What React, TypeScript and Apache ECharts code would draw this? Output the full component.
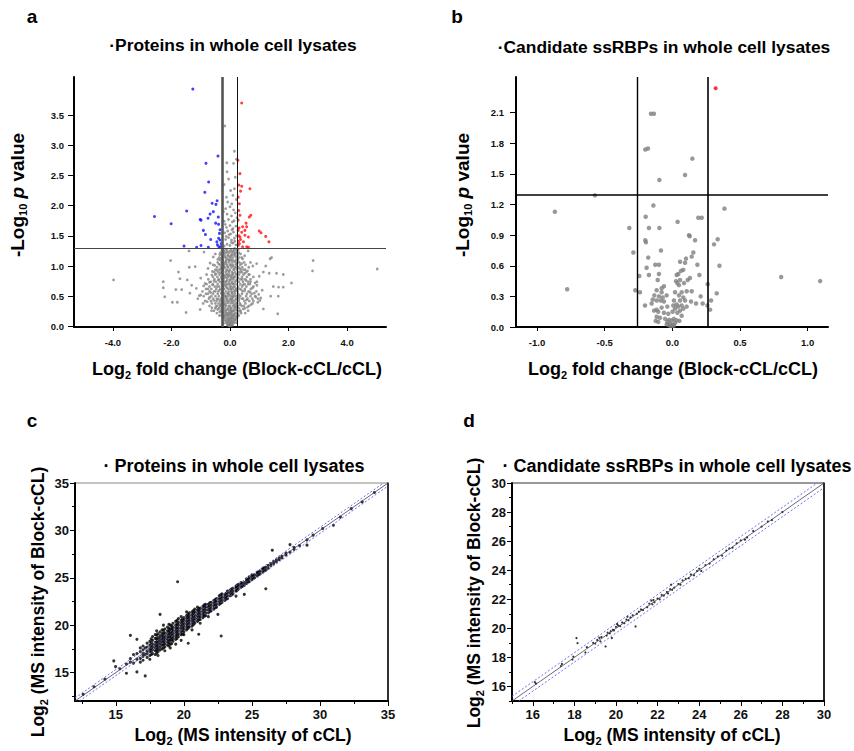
import React, { useEffect, useRef } from 'react';
import * as echarts from 'echarts';

const FONT = "'Liberation Sans', Arial, sans-serif";

// ---------- Panel a : volcano, all proteins ----------
const aXTicks = [-4, -2, 0, 2, 4];
const aYTicks = [0, 0.5, 1, 1.5, 2, 2.5, 3, 3.5];
const foldCut = 0.263;
const pCut = 1.3;

const aBlue: number[][] = [
  [-1.27, 3.93], [-0.41, 2.82], [-0.82, 2.7], [-0.73, 2.39], [-0.86, 2.22], [-0.61, 2.04], [-0.44, 2.08],
  [-0.48, 2.02], [-1.48, 1.91], [-0.68, 1.86], [-0.75, 1.79], [-1.02, 1.77], [-0.99, 1.76], [-0.57, 1.9],
  [-2.58, 1.82], [-2.01, 1.7], [-0.49, 1.71], [-0.39, 1.69], [-0.91, 1.59], [-0.84, 1.52], [-0.66, 1.44],
  [-0.39, 1.46], [-0.34, 1.43], [-1.57, 1.33], [-0.99, 1.34], [-1.14, 1.31], [-0.74, 1.31], [-0.43, 1.35],
  [-0.38, 1.32], [-0.32, 1.32], [-0.34, 1.6], [-0.4, 1.81], [-0.36, 1.54], [-0.45, 1.4], [-0.3, 1.37],
];
const aRed: number[][] = [
  [0.4, 3.7], [0.27, 2.75], [0.34, 2.53], [0.68, 2.28], [0.3, 2.34], [0.36, 2.24], [0.4, 2.32], [0.28, 2.14],
  [0.32, 2.03], [0.3, 1.92], [0.71, 1.84], [0.66, 1.81], [0.34, 1.84], [0.55, 1.71], [0.57, 1.65], [0.28, 1.76],
  [0.43, 1.65], [0.4, 1.56], [1.0, 1.58], [1.06, 1.55], [1.22, 1.49], [1.33, 1.4], [0.51, 1.51], [0.63, 1.48],
  [0.34, 1.48], [0.46, 1.4], [0.32, 1.37], [0.57, 1.32], [0.63, 1.31], [0.43, 1.32], [0.28, 1.34], [0.36, 1.44],
  [0.51, 1.59], [0.28, 1.59], [0.3, 1.5], [0.29, 1.41], [0.31, 1.63],
];
const aGray: number[][] = [
  // outliers
  [-3.98, 0.77], [2.84, 1.09], [2.82, 0.92], [5.03, 0.95], [2.1, 0.72], [1.82, 0.86], [1.59, 0.88], [1.42, 1.14],
  [1.22, 1.0], [1.34, 0.88], [1.48, 0.66], [1.66, 0.65], [1.82, 0.65], [1.39, 0.5], [1.65, 0.5], [1.63, 0.21],
  [1.14, 0.29], [1.02, 0.43], [-2.03, 1.09], [-2.28, 0.74], [-2.28, 0.64], [-2.23, 0.49], [-1.97, 0.4],
  [-1.8, 0.4], [-1.71, 0.79], [-1.76, 0.9], [-1.85, 0.61], [-1.65, 0.61], [-1.5, 0.23], [-1.37, 0.55],
  [-1.46, 0.77], [-1.39, 0.98], [-1.19, 0.99], [-1.31, 0.68], [-1.05, 0.51], [-1.02, 0.28], [-1.4, 1.25],
  [1.37, 1.12], [1.14, 0.9], [0.91, 1.04], [0.8, 0.82], [-0.89, 1.23], [-0.57, 1.15],
  // y 0 - 0.15
  [-0.02, 0.01], [0.03, 0.02], [-0.06, 0.03], [0.07, 0.04], [0.0, 0.05], [-0.11, 0.06], [0.12, 0.07], [-0.04, 0.08],
  [0.05, 0.09], [-0.15, 0.1], [0.16, 0.11], [0.01, 0.12], [-0.08, 0.13], [0.09, 0.14], [-0.2, 0.15], [0.21, 0.16],
  [-0.01, 0.03], [0.02, 0.07], [-0.03, 0.11], [0.04, 0.15],
  // y 0.15 - 0.3
  [-0.28, 0.18], [-0.12, 0.19], [0.13, 0.2], [0.27, 0.21], [-0.05, 0.22], [0.06, 0.23], [-0.35, 0.24], [0.34, 0.25],
  [-0.18, 0.26], [0.19, 0.27], [-0.42, 0.28], [0.45, 0.29], [0.0, 0.2], [-0.24, 0.3], [0.25, 0.17], [-0.09, 0.28],
  [0.1, 0.26], [0.52, 0.22], [-0.55, 0.26], [0.02, 0.29],
  // y 0.3 - 0.5
  [-0.62, 0.31], [0.6, 0.32], [-0.48, 0.33], [0.47, 0.34], [-0.33, 0.35], [0.35, 0.36], [-0.2, 0.37], [0.21, 0.38],
  [-0.07, 0.39], [0.08, 0.4], [-0.78, 0.41], [0.8, 0.42], [-0.55, 0.43], [0.57, 0.44], [-0.4, 0.45], [0.42, 0.46],
  [-0.27, 0.47], [0.28, 0.48], [-0.13, 0.49], [0.14, 0.5], [0.0, 0.33], [-0.92, 0.38], [0.95, 0.4], [-0.7, 0.48],
  [0.72, 0.36], [0.03, 0.45], [-0.03, 0.42], [1.05, 0.47], [-1.1, 0.46], [0.88, 0.49],
  // y 0.5 - 0.7
  [-1.0, 0.52], [0.98, 0.53], [-0.82, 0.54], [0.83, 0.55], [-0.66, 0.56], [0.68, 0.57], [-0.5, 0.58], [0.5, 0.59],
  [-0.36, 0.6], [0.38, 0.61], [-0.22, 0.62], [0.24, 0.63], [-0.1, 0.64], [0.11, 0.65], [0.0, 0.66], [-0.9, 0.67],
  [0.92, 0.68], [-0.6, 0.69], [0.62, 0.7], [-0.3, 0.55], [0.3, 0.52], [-0.16, 0.68], [0.17, 0.58], [-0.75, 0.62],
  [0.77, 0.64], [-0.44, 0.66], [0.45, 0.69], [1.1, 0.6], [-1.15, 0.63], [0.06, 0.56],
  // y 0.7 - 0.9
  [-0.85, 0.71], [0.86, 0.72], [-0.7, 0.73], [0.7, 0.74], [-0.55, 0.75], [0.55, 0.76], [-0.4, 0.77], [0.42, 0.78],
  [-0.28, 0.79], [0.28, 0.8], [-0.15, 0.81], [0.16, 0.82], [-0.04, 0.83], [0.05, 0.84], [-0.62, 0.85], [0.64, 0.86],
  [-0.48, 0.87], [0.5, 0.88], [-0.33, 0.89], [0.35, 0.9], [-0.2, 0.74], [0.22, 0.76], [-0.09, 0.86], [0.1, 0.88],
  [-1.0, 0.8], [1.0, 0.83], [0.0, 0.77],
  // y 0.9 - 1.1
  [-0.6, 0.91], [0.6, 0.92], [-0.45, 0.93], [0.46, 0.94], [-0.32, 0.95], [0.33, 0.96], [-0.2, 0.97], [0.21, 0.98],
  [-0.08, 0.99], [0.09, 1.0], [-0.52, 1.01], [0.53, 1.02], [-0.38, 1.03], [0.4, 1.04], [-0.25, 1.05], [0.26, 1.06],
  [-0.13, 1.07], [0.14, 1.08], [-0.02, 1.09], [0.03, 1.1], [-0.75, 0.96], [0.78, 1.0], [0.7, 1.06], [-0.68, 1.05],
  // y 1.1 - 1.3
  [-0.42, 1.11], [0.43, 1.12], [-0.3, 1.13], [0.31, 1.14], [-0.18, 1.15], [0.19, 1.16], [-0.06, 1.17], [0.07, 1.18],
  [-0.35, 1.19], [0.36, 1.2], [-0.22, 1.21], [0.23, 1.22], [-0.1, 1.23], [0.11, 1.24], [0.0, 1.25], [-0.27, 1.26],
  [0.28, 1.27], [-0.15, 1.28], [0.16, 1.29], [-0.5, 1.2], [0.5, 1.17], [0.62, 1.25],
  // dense central column
  [-0.22, 0.05], [0.22, 0.06], [-0.18, 0.35], [0.18, 0.32], [-0.1, 0.45], [0.12, 0.43], [-0.23, 0.55], [0.2, 0.6],
  [-0.05, 0.7], [0.07, 0.72], [-0.2, 0.84], [0.23, 0.87], [-0.12, 0.93], [0.15, 0.95], [-0.23, 1.0], [0.22, 1.03],
  [-0.08, 1.12], [0.0, 1.15], [0.14, 1.2], [-0.2, 1.24], [0.05, 0.25], [-0.14, 0.22], [0.15, 0.35], [-0.02, 0.53],
  [0.03, 0.62], [-0.07, 0.55], [0.09, 0.48], [-0.12, 0.75], [0.13, 0.7], [-0.03, 0.92], [0.02, 1.02], [-0.15, 1.04],
  [0.08, 0.8], [-0.24, 0.66], [0.24, 0.45], [-0.05, 0.18], [0.08, 0.18], [-0.17, 0.5], [0.19, 0.12], [-0.24, 0.4],
  // above the p threshold, inside the fold lines
  [-0.2, 1.33], [-0.1, 1.36], [0.0, 1.34], [0.1, 1.38], [0.2, 1.35], [-0.15, 1.44], [-0.05, 1.47], [0.05, 1.43],
  [0.15, 1.46], [0.22, 1.5], [-0.18, 1.55], [-0.08, 1.58], [0.02, 1.53], [0.12, 1.56], [-0.12, 1.64], [0.0, 1.67],
  [0.1, 1.62], [0.2, 1.66], [-0.2, 1.74], [-0.05, 1.77], [0.08, 1.73], [-0.1, 1.86], [0.05, 1.83], [0.18, 1.88],
  [-0.15, 1.95], [0.0, 1.98], [0.12, 1.93], [-0.08, 2.06], [0.06, 2.03], [-0.12, 2.14], [0.1, 2.17], [0.02, 2.25],
  [0.15, 2.28], [-0.05, 2.44], [0.18, 2.47], [-0.1, 2.56], [0.12, 2.7], [0.15, 2.9], [0.22, 2.77], [-0.18, 3.32],
  [-0.11, 2.71], [-0.2, 2.35], [0.22, 2.1], [-0.22, 1.9], [0.24, 1.8], [0.05, 1.39], [-0.03, 1.52], [0.16, 1.41],
  [-0.13, 1.49], [0.07, 1.6], [-0.16, 1.69], [0.14, 1.75],
];
// the dense core of the cloud, read row by row: [y, x values]
const aCoreRows: [number, number[]][] = [
  [0.02, [-0.09, -0.05, 0.04, 0.09]],
  [0.06, [-0.13, -0.07, -0.02, 0.03, 0.08, 0.14]],
  [0.1, [-0.18, -0.1, -0.06, 0.02, 0.06, 0.11, 0.19]],
  [0.14, [-0.23, -0.15, -0.05, 0.0, 0.05, 0.13, 0.24]],
  [0.18, [-0.2, -0.16, -0.09, 0.03, 0.11, 0.17, 0.3, -0.36]],
  [0.22, [-0.27, -0.2, -0.1, -0.02, 0.03, 0.16, 0.22, 0.38, -0.45]],
  [0.26, [-0.31, -0.25, -0.14, -0.03, 0.04, 0.13, 0.26, 0.36, -0.63, 0.62]],
  [0.3, [-0.38, -0.29, -0.17, -0.06, 0.05, 0.15, 0.23, 0.31, 0.51, -0.5]],
  [0.34, [-0.44, -0.34, -0.24, -0.13, -0.04, 0.1, 0.2, 0.27, 0.4, 0.65, -0.7]],
  [0.38, [-0.5, -0.39, -0.3, -0.23, -0.14, 0.02, 0.12, 0.24, 0.34, 0.53, 0.77, -0.62]],
  [0.42, [-0.65, -0.46, -0.34, -0.27, -0.18, -0.09, 0.05, 0.18, 0.3, 0.49, 0.66, -0.85]],
  [0.46, [-0.72, -0.58, -0.45, -0.31, -0.21, -0.12, 0.0, 0.07, 0.2, 0.32, 0.44, 0.6, 0.76, 0.95]],
  [0.5, [-0.9, -0.64, -0.5, -0.38, -0.25, -0.15, -0.06, 0.03, 0.1, 0.21, 0.35, 0.55, 0.7, 0.86]],
  [0.54, [-0.75, -0.58, -0.42, -0.28, -0.19, -0.08, 0.08, 0.16, 0.27, 0.41, 0.58, 0.74]],
  [0.58, [-0.94, -0.7, -0.55, -0.4, -0.26, -0.14, -0.04, 0.05, 0.14, 0.26, 0.43, 0.63, 0.9]],
  [0.62, [-0.82, -0.64, -0.47, -0.33, -0.2, -0.07, 0.02, 0.09, 0.19, 0.32, 0.51, 0.71]],
  [0.66, [-0.7, -0.52, -0.37, -0.24, -0.13, 0.03, 0.16, 0.28, 0.41, 0.56, 0.8]],
  [0.7, [-0.8, -0.58, -0.42, -0.28, -0.18, -0.1, 0.01, 0.1, 0.22, 0.35, 0.5, 0.68]],
  [0.74, [-0.66, -0.48, -0.35, -0.25, -0.14, -0.03, 0.07, 0.17, 0.3, 0.44, 0.62, 0.92]],
  [0.78, [-0.74, -0.53, -0.38, -0.22, -0.09, 0.02, 0.12, 0.24, 0.36, 0.52, 0.7]],
  [0.82, [-0.58, -0.43, -0.3, -0.19, -0.08, 0.04, 0.14, 0.26, 0.41, 0.58]],
  [0.86, [-0.8, -0.5, -0.36, -0.23, -0.13, -0.02, 0.09, 0.2, 0.31, 0.46, 0.66]],
  [0.9, [-0.54, -0.4, -0.27, -0.15, -0.05, 0.06, 0.17, 0.28, 0.4, 0.56]],
  [0.94, [-0.5, -0.36, -0.24, -0.1, 0.0, 0.12, 0.24, 0.37, 0.52]],
  [0.98, [-0.44, -0.3, -0.17, -0.06, 0.05, 0.16, 0.29, 0.42, 0.64]],
  [1.02, [-0.58, -0.33, -0.21, -0.1, 0.01, 0.11, 0.22, 0.35]],
  [1.06, [-0.42, -0.29, -0.18, -0.04, 0.07, 0.19, 0.32, 0.48]],
  [1.1, [-0.34, -0.24, -0.13, -0.03, 0.08, 0.2, 0.27]],
  [1.14, [-0.37, -0.26, -0.14, 0.02, 0.1, 0.24, 0.4]],
  [1.18, [-0.28, -0.19, -0.08, 0.04, 0.16, 0.26]],
  [1.22, [-0.33, -0.15, -0.04, 0.06, 0.18, 0.3]],
  [1.26, [-0.23, -0.1, 0.04, 0.13, 0.22]],
];

// ---------- Panel b : volcano, candidate ssRBPs ----------
const bXTicks = [-1, -0.5, 0, 0.5, 1];
const bYTicks = [0, 0.3, 0.6, 0.9, 1.2, 1.5, 1.8, 2.1];
const bRed: number[][] = [[0.32, 2.34]];
const bGray: number[][] = [
  [-0.158, 2.09], [-0.136, 2.09], [-0.2, 1.74], [-0.18, 1.75], [0.148, 1.65], [0.094, 1.49], [-0.096, 1.44],
  [-0.572, 1.29], [-0.868, 1.13], [-0.777, 0.37], [0.385, 1.16], [-0.14, 1.19], [-0.197, 1.08], [0.039, 1.03],
  [0.192, 1.07], [0.217, 1.07], [-0.318, 0.97], [-0.173, 0.97], [-0.096, 0.97], [-0.2, 0.85], [-0.195, 0.83],
  [0.123, 0.9], [0.128, 0.89], [0.168, 0.85], [0.308, 0.81], [0.335, 0.86], [-0.288, 0.73], [-0.084, 0.75],
  [0.155, 0.73], [0.143, 0.69], [-0.178, 0.68], [0.101, 0.67], [0.057, 0.64], [0.094, 0.63], [-0.19, 0.58],
  [-0.126, 0.61], [-0.099, 0.61], [0.185, 0.61], [0.348, 0.6], [0.064, 0.55], [0.081, 0.56], [0.044, 0.52],
  [0.032, 0.51], [0.2, 0.51], [-0.244, 0.5], [-0.173, 0.51], [-0.099, 0.52], [0.13, 0.48], [0.113, 0.46],
  [0.057, 0.46], [0.027, 0.45], [-0.108, 0.46], [0.086, 0.43], [0.037, 0.43], [0.049, 0.41], [-0.062, 0.4],
  [-0.079, 0.38], [0.804, 0.49], [1.092, 0.45], [0.261, 0.42], [-0.274, 0.36], [-0.239, 0.34], [0.328, 0.33],
  [-0.116, 0.36], [-0.079, 0.34], [0.069, 0.34], [0.106, 0.35], [0.143, 0.35], [0.02, 0.34], [-0.133, 0.31],
  [-0.099, 0.3], [-0.071, 0.29], [-0.042, 0.31], [0.049, 0.31], [0.081, 0.29], [0.209, 0.3], [0.286, 0.26],
  [-0.145, 0.27], [-0.116, 0.26], [-0.086, 0.26], [-0.062, 0.25], [0.012, 0.26], [0.057, 0.26], [0.094, 0.26],
  [0.138, 0.25], [0.175, 0.23], [0.224, 0.23], [-0.202, 0.21], [0.259, 0.21], [0.279, 0.17], [-0.153, 0.23],
  [0.007, 0.21], [0.032, 0.22], [0.044, 0.2], [0.02, 0.18], [0.057, 0.16], [0.069, 0.21], [0.081, 0.18],
  [0.106, 0.2], [-0.037, 0.2], [-0.079, 0.19], [-0.116, 0.17], [-0.135, 0.16], [-0.104, 0.15], [-0.062, 0.14],
  [-0.03, 0.13], [0.002, 0.15], [0.037, 0.14], [0.069, 0.11], [-0.116, 0.1], [-0.091, 0.09], [-0.054, 0.08],
  [-0.025, 0.07], [-0.005, 0.065], [0.012, 0.08], [0.032, 0.065], [0.052, 0.06], [-0.123, 0.06], [-0.104, 0.05],
  [-0.037, 0.05], [-0.017, 0.03], [0.002, 0.025], [0.02, 0.04], [-0.022, 0.015], [-0.005, 0.01], [0.012, 0.013],
  [-0.042, 0.026],
];

// ---------- Panel c : intensity scatter, all proteins ----------
const cTicks = [15, 20, 25, 30, 35];
const cMinorTicks = [12.5, 17.5, 22.5, 27.5, 32.5];
// [x, [y values]] columns read along the diagonal cloud
const cColumns: [number, number[]][] = [
  [12.6, [12.7]], [13.4, [13.5]], [14.2, [14.3]], [14.85, [16.23]], [14.98, [15.63]], [15.3, [15.4]],
  [15.78, [14.93, 15.9]], [16.07, [16.47, 18.93, 16.1]], [16.3, [16.0, 16.9]], [16.55, [15.07, 16.4, 17.0, 18.51]],
  [16.8, [16.5, 17.2, 16.1, 17.6]], [17.0, [16.3, 16.7, 17.0, 17.4, 17.8]], [17.16, [14.65, 16.9, 17.6]],
  [17.3, [16.6, 17.0, 17.3, 17.7, 18.1]], [17.5, [16.8, 17.2, 17.5, 17.9, 18.3, 16.4]],
  [17.6, [16.9, 17.25, 17.55, 17.85, 18.15, 18.55]],
  [17.7, [17.0, 17.4, 17.7, 18.0, 18.4, 18.8]], [17.9, [16.9, 17.3, 17.6, 17.9, 18.2, 18.6, 19.0]],
  [18.0, [17.05, 17.35, 17.65, 17.95, 18.25, 18.55, 18.95, 19.4]],
  [18.1, [17.2, 17.5, 17.8, 18.1, 18.4, 18.7, 19.1, 16.8]], [18.25, [17.4, 17.7, 18.0, 18.3, 18.6, 18.9, 21.14, 19.3]],
  [18.4, [17.5, 17.9, 18.2, 18.5, 18.8, 19.1, 19.5]],
  [18.5, [17.6, 17.95, 18.25, 18.55, 18.85, 19.15, 19.45, 20.0]],
  [18.6, [17.7, 18.0, 18.3, 18.6, 18.9, 19.2, 19.6, 17.3]],
  [18.8, [17.9, 18.2, 18.5, 18.8, 19.1, 19.4, 19.8]],
  [18.9, [17.8, 18.15, 18.45, 18.75, 19.05, 19.35, 19.65, 20.1]],
  [19.0, [18.0, 18.4, 18.7, 19.0, 19.3, 19.6, 20.0, 17.6]],
  [19.1, [18.05, 18.45, 18.75, 19.05, 19.35, 19.65, 19.95]],
  [19.2, [18.3, 18.6, 18.9, 19.2, 19.5, 19.8, 20.2]], [19.4, [18.5, 18.8, 19.1, 19.4, 19.7, 20.0, 20.4, 18.0]],
  [19.5, [18.6, 18.95, 19.25, 19.55, 19.85, 20.15, 20.5]],
  [19.54, [24.58]], [19.6, [18.8, 19.1, 19.4, 19.7, 20.0, 20.3, 20.7]],
  [19.8, [19.0, 19.3, 19.6, 19.9, 20.2, 20.5, 20.9, 18.4]],
  [19.9, [19.05, 19.45, 19.75, 20.05, 20.35, 20.65]],
  [20.0, [19.3, 19.6, 19.9, 20.2, 20.5, 20.8, 19.0]],
  [20.2, [19.5, 19.8, 20.1, 20.4, 20.7, 21.0, 21.4]],
  [20.3, [19.65, 19.95, 20.25, 20.55, 20.85, 21.15]],
  [20.32, [18.09]], [20.4, [19.8, 20.1, 20.4, 20.7, 21.0, 21.3]],
  [20.6, [19.9, 20.2, 20.5, 20.8, 21.1, 21.4, 19.5]],
  [20.7, [20.05, 20.35, 20.65, 20.95, 21.25, 21.55]],
  [20.8, [20.2, 20.5, 20.8, 21.1, 21.4, 21.7]],
  [21.0, [20.4, 20.7, 21.0, 21.3, 21.6, 21.9]], [21.09, [19.04]],
  [21.1, [20.55, 20.85, 21.15, 21.45, 21.75]],
  [21.2, [20.6, 20.9, 21.2, 21.5, 21.8, 20.2]],
  [21.4, [20.8, 21.1, 21.4, 21.7, 22.0]],
  [21.5, [20.95, 21.25, 21.55, 21.85, 22.15]],
  [21.6, [21.0, 21.3, 21.6, 21.9, 22.2]], [21.8, [21.3, 21.6, 21.9, 22.2, 20.9]],
  [21.9, [21.45, 21.75, 22.05, 22.35]],
  [22.0, [21.5, 21.8, 22.1, 22.4]], [22.2, [21.7, 22.0, 22.3, 22.6]],
  [22.3, [21.85, 22.15, 22.45, 22.7]],
  [22.4, [21.9, 22.2, 22.5, 22.8]], [22.5, [21.14]],
  [22.6, [22.2, 22.5, 22.8, 23.1]], [22.7, [22.3, 22.6, 22.9, 23.2]],
  [22.74, [18.86]], [22.8, [22.4, 22.7, 23.0, 23.3]], [23.0, [22.6, 22.9, 23.2]],
  [23.1, [22.75, 23.05, 23.35]],
  [23.2, [22.8, 23.1, 23.4, 23.6]], [23.4, [23.1, 23.4, 23.7]], [23.5, [23.2, 23.5, 23.8]], [23.6, [23.3, 23.6, 23.9]],
  [23.83, [23.07, 23.6, 23.9, 24.1]], [23.9, [23.65, 23.95, 24.2]], [24.0, [23.8, 24.1, 24.3]], [24.2, [24.0, 24.3, 24.5]],
  [24.3, [24.1, 24.4]], [24.44, [23.25, 24.2, 24.5]],
  [24.6, [24.4, 24.7, 24.9]], [24.7, [24.55, 24.8]], [24.8, [24.6, 24.9, 25.1]], [25.0, [24.8, 25.1, 25.3]],
  [25.1, [24.95, 25.2]], [25.2, [25.0, 25.3]],
  [25.4, [25.2, 25.5, 25.6]], [25.5, [25.35, 25.6]], [25.6, [25.4, 25.7]], [25.8, [25.6, 25.9, 26.0]],
  [25.9, [25.75, 26.05]], [26.02, [23.84, 25.8, 26.1]],
  [26.2, [26.0, 26.3]], [26.4, [26.3, 26.5]], [26.5, [27.91]], [26.6, [26.5, 26.7]], [26.8, [26.7, 26.9]],
  [27.0, [26.9, 27.1]], [27.2, [27.1, 27.3]], [27.5, [27.4, 27.6]], [27.8, [27.7, 28.5]], [28.1, [28.0, 28.2]],
  [28.5, [28.4]], [29.05, [28.44, 29.0]], [29.5, [29.5]], [30.2, [30.2]], [30.99, [30.54]], [31.5, [31.4]],
  [32.3, [32.3]], [33.1, [33.0]], [34.0, [34.0]],
];

// ---------- Panel d : intensity scatter, candidate ssRBPs ----------
const dTicks = [16, 18, 20, 22, 24, 26, 28, 30];
const dMinorTicks = [15, 17, 19, 21, 23, 25, 27, 29];
const dPoints: number[][] = [
  [16.1, 16.3], [16.15, 16.2], [17.4, 17.55], [17.35, 17.4], [17.9, 17.85], [17.95, 18.05], [18.1, 19.33],
  [18.15, 18.98], [18.53, 18.34], [18.6, 18.7], [18.9, 19.0], [19.0, 18.95], [19.1, 19.2], [19.2, 19.35],
  [19.25, 19.1], [19.3, 19.4], [19.5, 18.75], [19.55, 19.5], [19.6, 19.7], [19.7, 19.65], [19.75, 19.8],
  [19.8, 19.33], [19.85, 19.9], [19.9, 19.85], [20.0, 20.1], [20.05, 20.3], [20.1, 20.2], [20.2, 20.15],
  [20.3, 20.4], [20.4, 20.35], [20.5, 20.6], [20.55, 20.8], [20.6, 20.55], [20.7, 20.75], [20.8, 20.9],
  [20.94, 20.13], [21.0, 21.0], [21.1, 21.15], [21.2, 21.3], [21.3, 21.25], [21.5, 21.45], [21.6, 21.7],
  [21.7, 21.9], [21.75, 21.65], [21.8, 21.95], [21.85, 21.8], [22.0, 22.05], [22.1, 22.0], [22.2, 22.3],
  [22.3, 22.25], [22.45, 22.5], [22.5, 22.4], [22.6, 22.7], [22.65, 23.0], [22.7, 22.65], [22.8, 22.8],
  [23.0, 23.05], [23.1, 23.0], [23.2, 23.3], [23.35, 23.4], [23.5, 23.45], [23.6, 23.7], [23.75, 23.65],
  [23.9, 23.95], [24.0, 24.1], [24.1, 23.95], [24.3, 24.35], [24.5, 24.45], [24.7, 24.75], [24.9, 24.95],
  [25.1, 25.0], [25.3, 25.35], [25.45, 25.5], [25.6, 25.55], [25.8, 25.85], [26.0, 26.05], [26.2, 26.1],
  [26.3, 26.25], [26.6, 26.7], [27.0, 27.0], [27.3, 27.35], [27.5, 27.45], [28.0, 28.0],
];
const diagOffset = 0.322;

// ---------- helpers ----------
const f1 = (v: number) => v.toFixed(1);
const f0 = (v: number) => String(Math.round(v));

function mainAxis(gridIndex: number, min: number, max: number, ticks: number[], fontSize: number,
  margin: number, lineWidth: number, fmt: (v: number) => string, tickLen: number, position: string) {
  return {
    type: 'value', gridIndex, min, max, position,
    splitLine: { show: false },
    axisLine: { show: true, onZero: false, lineStyle: { color: '#000', width: lineWidth } },
    axisTick: { show: true, customValues: ticks, length: tickLen, lineStyle: { color: '#000', width: 1 } },
    axisLabel: {
      show: true, customValues: ticks, margin, formatter: fmt,
      fontFamily: FONT, fontWeight: 'bold', fontSize, color: '#111',
    },
  };
}
function minorAxis(gridIndex: number, min: number, max: number, ticks: number[], position: string) {
  return {
    type: 'value', gridIndex, min, max, position,
    splitLine: { show: false },
    axisLine: { show: false, onZero: false },
    axisLabel: { show: false },
    axisTick: { show: true, customValues: ticks, length: 3, lineStyle: { color: '#000', width: 1 } },
  };
}
function borderAxis(gridIndex: number, min: number, max: number, position: string, color: string, width: number) {
  return {
    type: 'value', gridIndex, min, max, position,
    splitLine: { show: false },
    axisLine: { show: true, onZero: false, lineStyle: { color, width } },
    axisLabel: { show: false },
    axisTick: { show: false },
  };
}

const richMain = (size: number) => ({ fontFamily: FONT, fontWeight: 'bold', fontSize: size, lineHeight: 22, verticalAlign: 'middle', fill: '#000' });
const richSub = (size: number) => ({ fontFamily: FONT, fontWeight: 'bold', fontSize: size, lineHeight: 12, verticalAlign: 'bottom', fill: '#000' });

function plainText(text: string, x: number, y: number, size: number) {
  return {
    type: 'text', x, y, z: 10,
    style: { text, fontFamily: FONT, fontWeight: 'bold', fontSize: size, fill: '#000', align: 'center', verticalAlign: 'middle' },
  };
}
function richText(text: string, x: number, y: number, rotate: boolean, size: number) {
  return {
    type: 'text', x, y, z: 10, rotation: rotate ? Math.PI / 2 : 0,
    style: {
      text, align: 'center', verticalAlign: 'middle',
      rich: {
        m: richMain(size), s: richSub(Math.round(size * 0.6)),
        i: { ...richMain(size), fontStyle: 'italic' },
      },
    },
  };
}

function vLine(v: number, color: string, width: number) {
  return { xAxis: v, lineStyle: { color, width, type: 'solid' } };
}
function hLine(v: number, color: string, width: number) {
  return { yAxis: v, lineStyle: { color, width, type: 'solid' } };
}

export default function App() {
  const ref = useRef<HTMLDivElement>(null);
  useEffect(() => {
    if (!ref.current) return;
    const chart = echarts.init(ref.current, undefined, { renderer: 'svg' });

    const aAll: number[][] = aGray.slice();
    aCoreRows.forEach(([y, xs]) => xs.forEach((x) => aAll.push([x, y])));
    const cPoints: number[][] = [];
    cColumns.forEach(([x, ys]) => ys.forEach((y) => cPoints.push([x, y])));

    const cMin = 12, cMax = 35, dMin = 15, dMax = 30;
    const diag = (lo: number, hi: number, off: number) =>
      off >= 0 ? [[lo, lo + off], [hi - off, hi]] : [[lo - off, lo], [hi, hi + off]];

    const option: any = {
      animation: false,
      backgroundColor: '#fff',
      grid: [
        { left: 74, top: 77, width: 312, height: 250 },
        { left: 516, top: 77, width: 312, height: 250 },
        { left: 75, top: 483, width: 313, height: 218, show: true, borderColor: '#888', borderWidth: 1 },
        { left: 512, top: 483, width: 312, height: 218, show: true, borderColor: '#333', borderWidth: 1 },
      ],
      xAxis: [
        mainAxis(0, -5.33, 5.33, aXTicks, 9.5, 10, 2, f1, 4, 'bottom'),
        mainAxis(1, -1.155, 1.15, bXTicks, 9.5, 10, 2, f1, 4, 'bottom'),
        mainAxis(2, cMin, cMax, cTicks, 13, 7, 2, f0, 5, 'bottom'),
        minorAxis(2, cMin, cMax, cMinorTicks, 'bottom'),
        mainAxis(3, dMin, dMax, dTicks, 13, 7, 2, f0, 5, 'bottom'),
        minorAxis(3, dMin, dMax, dMinorTicks, 'bottom'),
      ],
      yAxis: [
        mainAxis(0, -0.01, 4.13, aYTicks, 9.5, 10, 2, f1, 6, 'left'),
        mainAxis(1, 0, 2.45, bYTicks, 9.5, 12, 2, f1, 6, 'left'),
        mainAxis(2, cMin, cMax, cTicks, 13, 6, 2, f0, 5, 'left'),
        minorAxis(2, cMin, cMax, cMinorTicks, 'left'),
        borderAxis(2, cMin, cMax, 'right', '#000', 1.5),
        mainAxis(3, dMin, dMax, dTicks, 13, 6, 2, f0, 5, 'left'),
        minorAxis(3, dMin, dMax, dMinorTicks, 'left'),
        borderAxis(3, dMin, dMax, 'right', '#000', 1.5),
      ],
      series: [
        {
          type: 'scatter', xAxisIndex: 0, yAxisIndex: 0, data: aAll, symbolSize: 2.8,
          itemStyle: { color: '#858585' }, silent: true,
          markLine: {
            silent: true, symbol: 'none', label: { show: false },
            data: [vLine(-foldCut, '#555', 2.6), vLine(foldCut, '#111', 1), hLine(pCut, '#444', 1.1)],
          },
        },
        { type: 'scatter', xAxisIndex: 0, yAxisIndex: 0, data: aBlue, symbolSize: 3, itemStyle: { color: '#1010ff' }, silent: true },
        { type: 'scatter', xAxisIndex: 0, yAxisIndex: 0, data: aRed, symbolSize: 3, itemStyle: { color: '#ff1010' }, silent: true },
        {
          type: 'scatter', xAxisIndex: 1, yAxisIndex: 1, data: bGray, symbolSize: 4.5,
          itemStyle: { color: '#808080' }, silent: true,
          markLine: {
            silent: true, symbol: 'none', label: { show: false },
            data: [vLine(-foldCut, '#000', 1.4), vLine(foldCut, '#000', 1.6), hLine(pCut, '#000', 1.6)],
          },
        },
        { type: 'scatter', xAxisIndex: 1, yAxisIndex: 1, data: bRed, symbolSize: 4, itemStyle: { color: '#ff0000' }, silent: true },

        { type: 'scatter', xAxisIndex: 2, yAxisIndex: 2, data: cPoints, symbolSize: 3.1, itemStyle: { color: '#000' }, silent: true },
        { type: 'line', xAxisIndex: 2, yAxisIndex: 2, data: diag(cMin, cMax, 0), symbol: 'none', lineStyle: { color: '#444', width: 0.8 }, silent: true },
        { type: 'line', xAxisIndex: 2, yAxisIndex: 2, data: diag(cMin, cMax, diagOffset), symbol: 'none', lineStyle: { color: '#5a5aff', width: 0.9, type: [2, 2] }, silent: true },
        { type: 'line', xAxisIndex: 2, yAxisIndex: 2, data: diag(cMin, cMax, -diagOffset), symbol: 'none', lineStyle: { color: '#5a5aff', width: 0.9, type: [2, 2] }, silent: true },

        { type: 'scatter', xAxisIndex: 4, yAxisIndex: 5, data: dPoints, symbolSize: 2.2, itemStyle: { color: '#000' }, silent: true },
        { type: 'line', xAxisIndex: 4, yAxisIndex: 5, data: diag(dMin, dMax, 0), symbol: 'none', lineStyle: { color: '#444', width: 0.8 }, silent: true },
        { type: 'line', xAxisIndex: 4, yAxisIndex: 5, data: diag(dMin, dMax, diagOffset), symbol: 'none', lineStyle: { color: '#5a5aff', width: 0.9, type: [2, 2] }, silent: true },
        { type: 'line', xAxisIndex: 4, yAxisIndex: 5, data: diag(dMin, dMax, -diagOffset), symbol: 'none', lineStyle: { color: '#5a5aff', width: 0.9, type: [2, 2] }, silent: true },
      ],
      graphic: [
        plainText('a', 32, 16, 19),
        plainText('b', 457, 16, 19),
        plainText('c', 32, 420, 19),
        plainText('d', 469, 420, 19),
        plainText('·Proteins in whole cell lysates', 233, 45, 17.4),
        plainText('·Candidate ssRBPs in whole cell lysates', 664, 47, 17.4),
        plainText('· Proteins in whole cell lysates', 234, 466, 18),
        plainText('· Candidate ssRBPs in whole cell lysates', 677, 466, 18),
        richText('{m|-Log}{s|10}{m| }{i|p}{m| value}', 17, 195, true, 19),
        richText('{m|-Log}{s|10}{m| }{i|p}{m| value}', 462, 195, true, 19),
        richText('{m|Log}{s|2}{m| fold change (Block-cCL/cCL)}', 237, 369, false, 18),
        richText('{m|Log}{s|2}{m| fold change (Block-cCL/cCL)}', 673, 369, false, 18),
        richText('{m|Log}{s|2}{m| (MS intensity of Block-cCL)}', 38, 602, true, 17.5),
        richText('{m|Log}{s|2}{m| (MS intensity of Block-cCL)}', 474, 593, true, 17.5),
        richText('{m|Log}{s|2}{m| (MS intensity of cCL)}', 243, 735, false, 17.5),
        richText('{m|Log}{s|2}{m| (MS intensity of cCL)}', 672, 735, false, 17.5),
      ],
    };
    chart.setOption(option);
    return () => chart.dispose();
  }, []);
  return <div ref={ref} style={{ position: 'fixed', left: 0, top: 0, width: 854, height: 751 }} />;
}
